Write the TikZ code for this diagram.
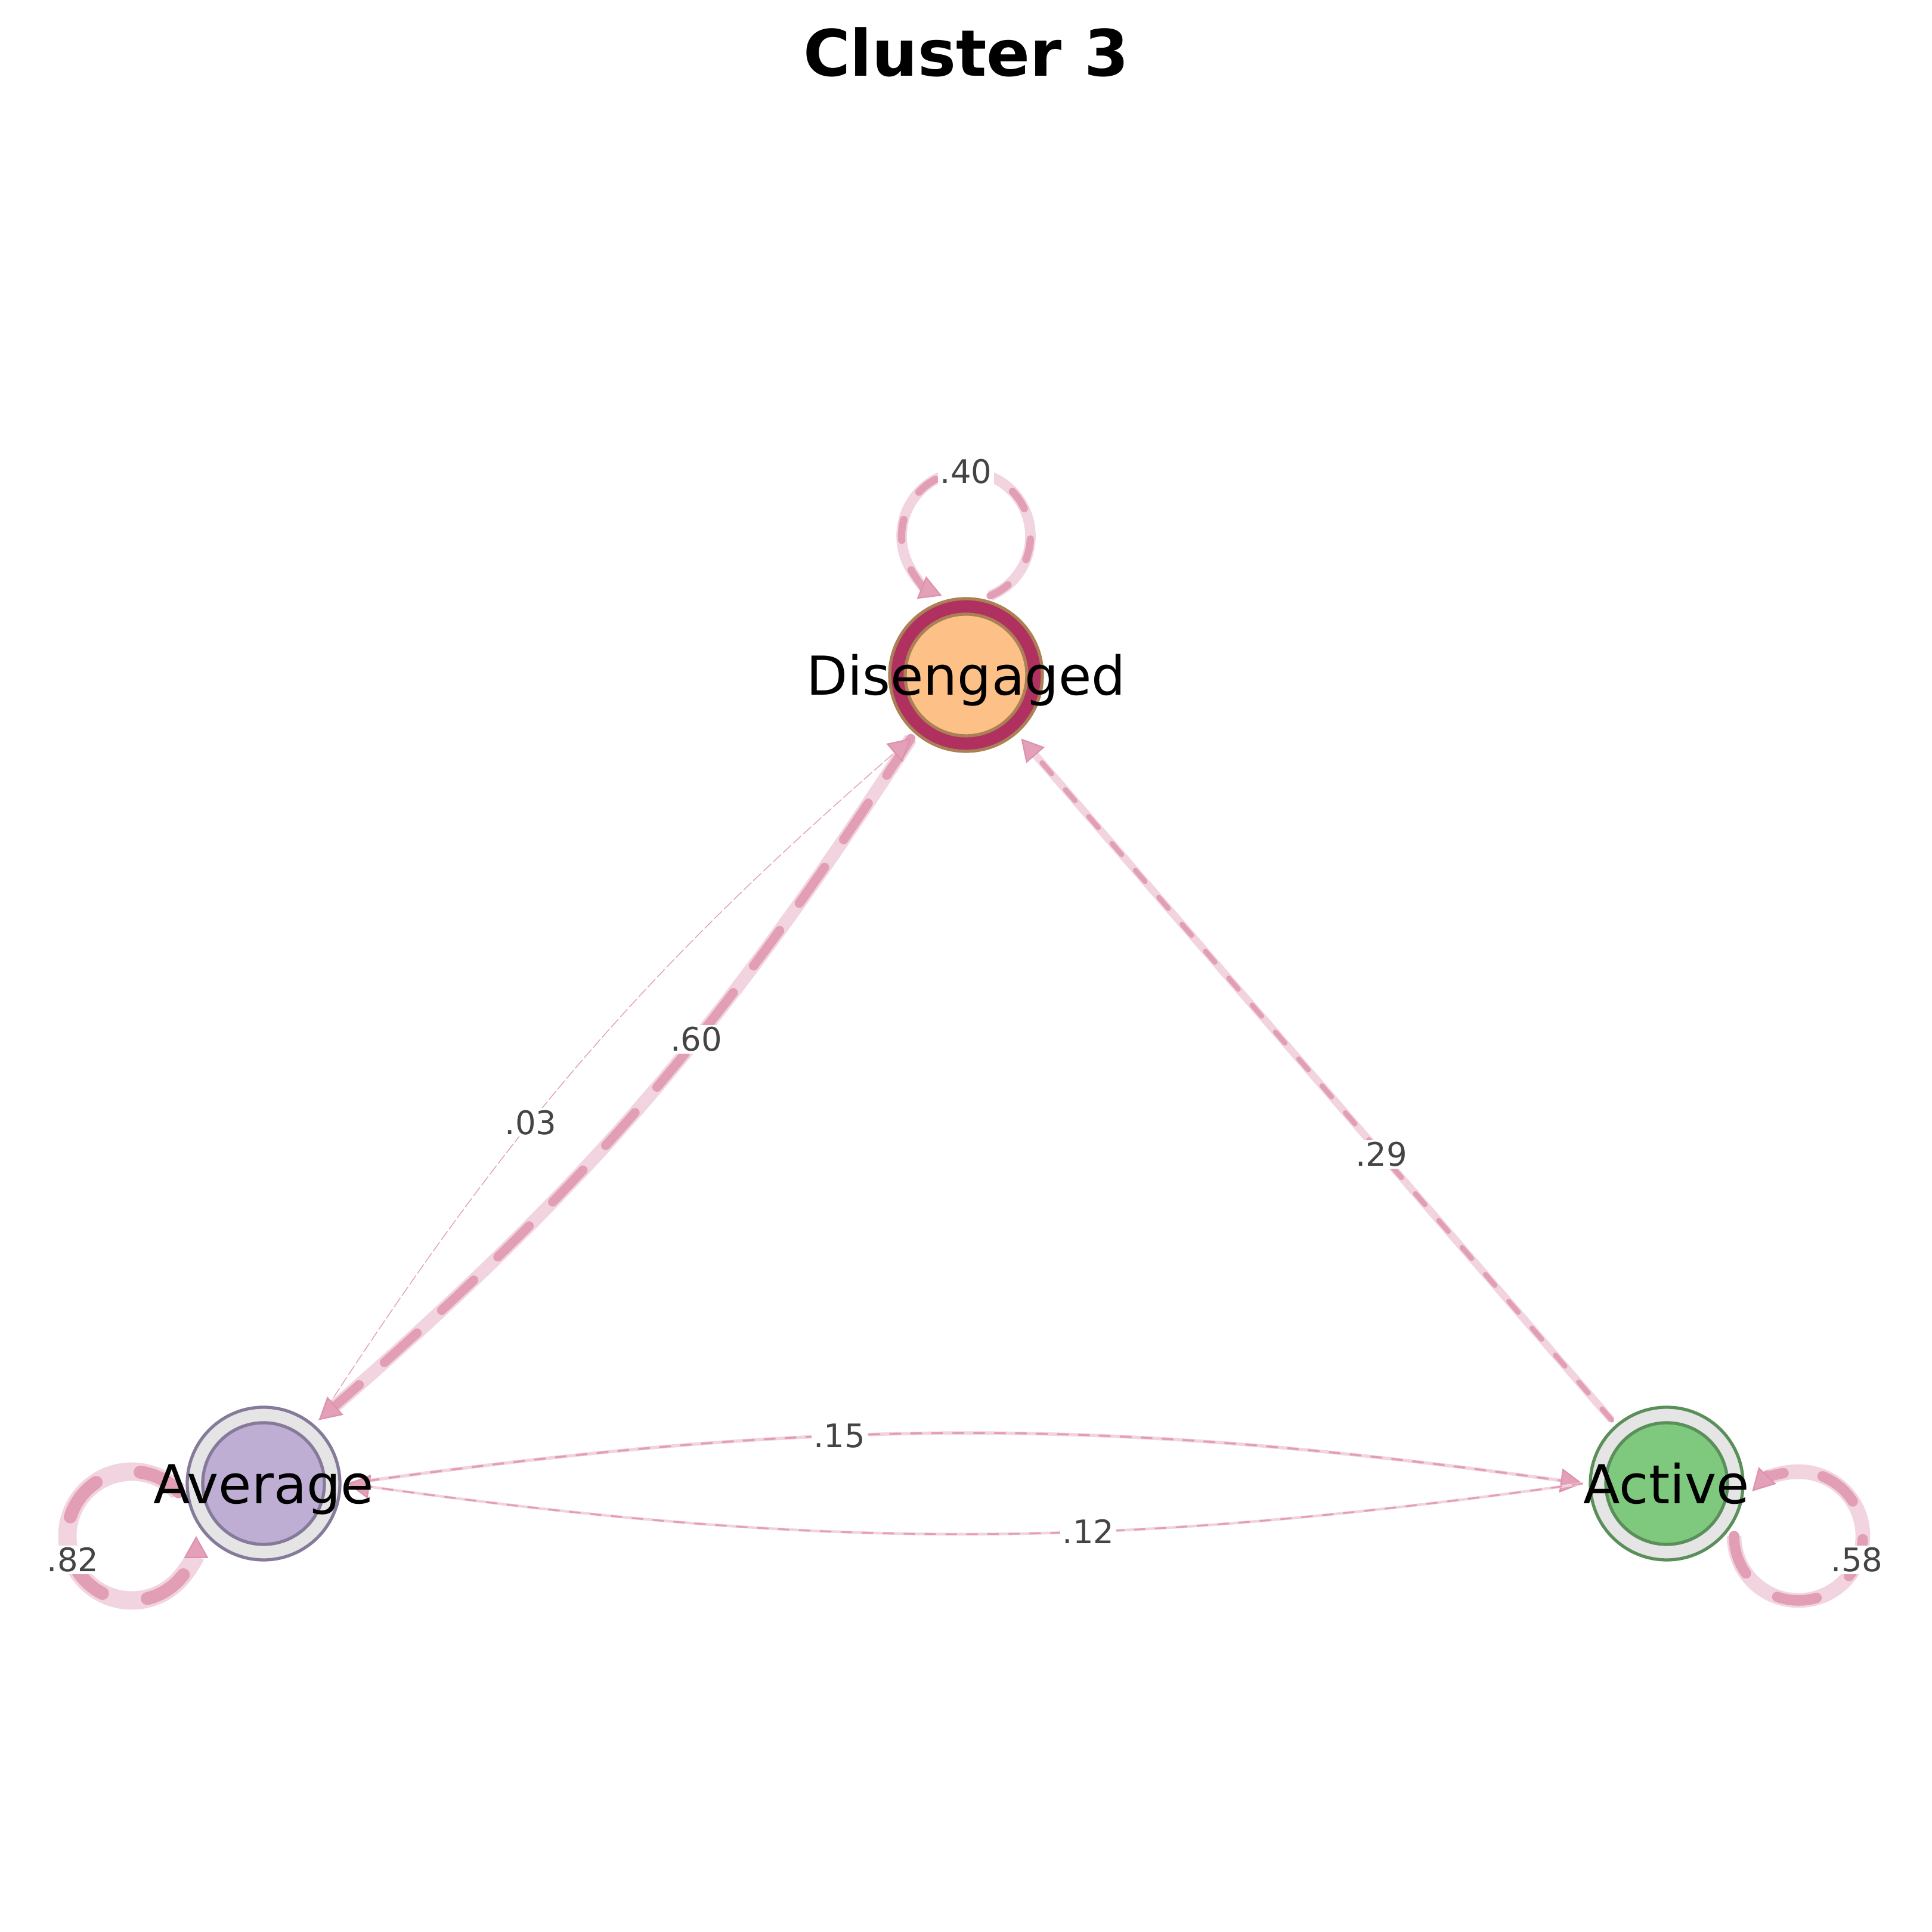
\documentclass[tikz,border=0pt]{standalone}
\usepackage{fontspec}
\setmainfont{DejaVu Sans}
\usetikzlibrary{arrows.meta,calc}

\definecolor{bandpink}{RGB}{242,212,224}
\definecolor{dashpink}{RGB}{226,158,181}
\definecolor{tippink}{RGB}{220,145,172}
\definecolor{tipfill}{RGB}{228,160,184}
\definecolor{labelgray}{RGB}{68,68,68}
\definecolor{disring}{RGB}{176,48,96}
\definecolor{disline}{RGB}{170,128,84}
\definecolor{disfill}{RGB}{253,192,134}
\definecolor{avgline}{RGB}{134,122,155}
\definecolor{avgfill}{RGB}{190,174,212}
\definecolor{actline}{RGB}{90,143,90}
\definecolor{actfill}{RGB}{127,201,127}
\definecolor{ringgray}{RGB}{229,229,229}

\tikzset{
    statering/.style={circle, minimum size=2.56cm, inner sep=0pt, outer sep=0.13cm, line width=1.5pt},
    core/.style={circle, minimum size=2.04cm, inner sep=0pt, line width=1.5pt},
    statename/.style={anchor=base, yshift=-0.34cm, font=\fontsize{25.6}{25.6}\selectfont},
    band/.style={draw=bandpink, line width=#1, shorten >=9pt},
    flow/.style={draw=dashpink, line cap=round,
        -{Triangle[length=10.5pt, width=11.5pt, line width=0.6pt, color=tippink, fill=tipfill]}},
    wlabel/.style={fill=white, text=labelgray, inner sep=1pt, font=\fontsize{15.5}{15.5}\selectfont},
}

\begin{document}
\begin{tikzpicture}
    \useasboundingbox (0,0) rectangle (32.4,32.4);
    \node[anchor=base, font=\bfseries\fontsize{30.6}{30.6}\selectfont] (title) at (16.2,31.12) {Cluster 3};

    \node[statering, draw=disline, fill=disring] (dis) at (16.2,21.08) {};
    \node[core, draw=disline, fill=disfill] (dis-core) at (dis) {};
    \node[statering, draw=avgline, fill=ringgray] (avg) at (4.42,7.52) {};
    \node[core, draw=avgline, fill=avgfill] (avg-core) at (avg) {};
    \node[statering, draw=actline, fill=ringgray] (act) at (27.95,7.52) {};
    \node[core, draw=actline, fill=actfill] (act-core) at (act) {};

    \coordinate (dis-loop) at ($(dis)+(0,2.33)$);
    \coordinate (avg-loop) at ($(avg)+(-2.21,-0.88)$);
    \coordinate (act-loop) at ($(act)+(2.21,-0.88)$);

    \draw[band=5pt] ($(dis-loop)+(292:1.08)$) arc[start angle=292, end angle=608, radius=1.08];
    \draw[flow, line width=3.5pt, dash pattern=on 10pt off 15pt] ($(dis-loop)+(292:1.08)$) arc[start angle=292, end angle=608, radius=1.08];
    \node[wlabel] (w40) at ($(dis)+(0,3.41)$) {.40};

    \draw[band=8.8pt] ($(avg-loop)+(43.4:1.08)$) arc[start angle=43.4, end angle=360, radius=1.08];
    \draw[flow, line width=6.2pt, dash pattern=on 21pt off 22pt] ($(avg-loop)+(43.4:1.08)$) arc[start angle=43.4, end angle=360, radius=1.08];
    \node[wlabel] (w82) at ($(avg)+(-3.20,-1.28)$) {.82};

    \draw[band=7pt] ($(act-loop)+(180:1.08)$) arc[start angle=180, end angle=496, radius=1.08];
    \draw[flow, line width=5pt, dash pattern=on 19pt off 19pt] ($(act-loop)+(180:1.08)$) arc[start angle=180, end angle=496, radius=1.08];
    \node[wlabel] (w58) at ($(act)+(3.19,-1.28)$) {.58};

    \draw[band=6.3pt] (dis.229) to[bend left=8] (avg.49);
    \draw[flow, line width=4.4pt, dash pattern=on 21pt off 16pt] (dis.229) to[bend left=8] node[wlabel, pos=0.40] (w60) {.60} (avg.49);

    \draw[flow, line width=0.4pt, dash pattern=on 5pt off 1.5pt] (avg.49) to[bend left=8] node[wlabel, pos=0.395] (w03) {.03} (dis.229);

    \draw[band=3.6pt] (act) -- (dis);
    \draw[flow, line width=2.4pt, dash pattern=on 7pt off 10pt] (act) -- node[wlabel, pos=0.39] (w29) {.29} (dis);

    \draw[band=1.6pt] (avg.0) to[bend left=8] (act.180);
    \draw[flow, line width=1pt, dash pattern=on 5pt off 5pt] (avg.0) to[bend left=8] node[wlabel, pos=0.39] (w15) {.15} (act.180);

    \draw[band=1.3pt] (act.180) to[bend left=8] (avg.0);
    \draw[flow, line width=0.85pt, dash pattern=on 5pt off 5pt] (act.180) to[bend left=8] node[wlabel, pos=0.392] (w12) {.12} (avg.0);

    \node[statename] (dis-name) at (dis) {Disengaged};
    \node[statename] (avg-name) at (avg) {Average};
    \node[statename] (act-name) at (act) {Active};
\end{tikzpicture}
\end{document}
